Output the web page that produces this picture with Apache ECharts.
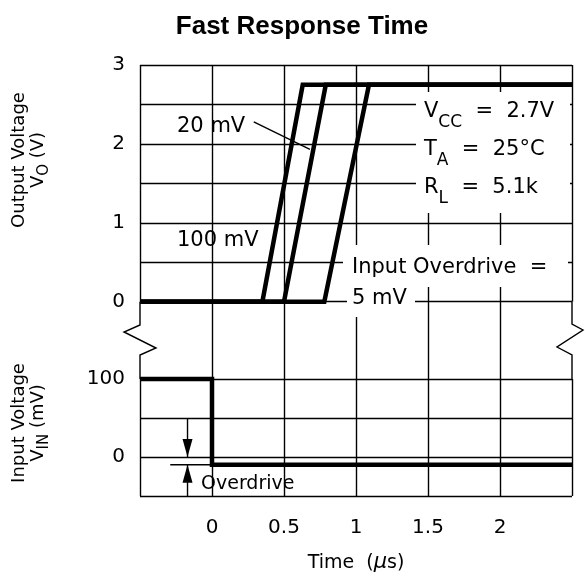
<!DOCTYPE html>
<html>
<head>
<meta charset="utf-8">
<script src="https://cdn.jsdelivr.net/npm/echarts/dist/echarts.min.js"></script>
<style>
html,body{margin:0;padding:0;background:#fff;}
#c{width:585px;height:584px;}
</style>
</head>
<body>
<div id="c"></div>
<script>
// ---- data ----
const timeTicks = [0, 0.5, 1, 1.5, 2];
const outTicks = [0, 1, 2, 3];
const inTicks = [0, 100];
const out100mV = [[-0.5, 0], [0.35, 0], [0.63, 2.75], [2.5, 2.75]];
const out20mV  = [[-0.5, 0], [0.50, 0], [0.79, 2.75], [2.5, 2.75]];
const out5mV   = [[-0.5, 0], [0.78, 0], [1.09, 2.75], [2.5, 2.75]];
const inputStep = [[-0.5, 100], [0, 100], [0, -10], [2.5, -10]];
const overdriveRef = [[-0.29, -10], [0, -10]];
const arrowDown = [[-0.17, 50], [-0.17, 0]];
const arrowUp = [[-0.17, -50], [-0.17, -10]];
const pointer20 = [[0.29, 2.28], [0.68, 1.93]];

// ---- layout ----
const L = 140, W = 432, R = L + W;
const T0 = 65, H0 = 236.7;      // output plot
const T1 = T0 + H0, H1 = 77.3;  // break band
const T2 = T1 + H1, H2 = 117;   // input plot
const FF = '"DejaVu Sans", sans-serif';
const thin = { color: '#000', width: 1.4 };
const thick = { color: '#000', width: 4.5, join: 'miter', cap: 'butt' };

const chart = echarts.init(document.getElementById('c'), null, { renderer: 'canvas' });

function xAx(gi) {
  return {
    gridIndex: gi, type: 'value', min: -0.5, max: 2.5, interval: 0.5,
    axisLine: { show: false }, axisTick: { show: false },
    splitLine: { show: true, lineStyle: thin, showMinLine: gi !== 1, showMaxLine: gi !== 1 },
    axisLabel: gi === 2 ? {
      show: true, color: '#000', fontFamily: FF, fontSize: 20, margin: 22,
      showMinLabel: true, showMaxLabel: true,
      formatter: v => timeTicks.some(t => Math.abs(t - v) < 1e-9) ? String(v) : ''
    } : { show: false }
  };
}

const lineSeries = (data, style, xi, extra) => Object.assign({
  type: 'line', xAxisIndex: xi, yAxisIndex: xi, data: data,
  symbol: 'none', lineStyle: style, clip: false, silent: true, animation: false
}, extra || {});

function arrowData(pts, down) {
  return [
    { value: pts[0], symbol: 'none' },
    { value: pts[1], symbol: 'triangle', symbolSize: [10, 18],
      symbolRotate: down ? 180 : 0, symbolOffset: [0, down ? -9 : 9],
      itemStyle: { color: '#000' } }
  ];
}

const subRich = {
  m: { fontFamily: FF, fontSize: 21, lineHeight: 30, color: '#000' },
  s: { fontFamily: FF, fontSize: 17, lineHeight: 30, color: '#000', padding: [22, 0, 0, 0] }
};

function txt(x, y, text, extra) {
  return Object.assign({
    type: 'text', x: x, y: y, z: 20,
    style: Object.assign({ text: text, fill: '#000', font: '21px ' + FF,
      textAlign: 'left', textVerticalAlign: 'middle' }, extra || {})
  });
}
function box(x1, y1, x2, y2) {
  return { type: 'rect', z: 10, shape: { x: x1, y: y1, width: x2 - x1, height: y2 - y1 },
    style: { fill: '#fff' } };
}
function poly(pts) {
  return { type: 'polyline', z: 10, shape: { points: pts },
    style: { stroke: '#000', lineWidth: 1.4, fill: null } };
}

const option = {
  backgroundColor: '#fff',
  animation: false,
  grid: [
    { left: L, width: W, top: T0, height: H0, show: false },
    { left: L, width: W, top: T1, height: H1, show: false },
    { left: L, width: W, top: T2, height: H2, show: false }
  ],
  xAxis: [xAx(0), xAx(1), xAx(2)],
  yAxis: [
    { gridIndex: 0, type: 'value', min: 0, max: 3, interval: 0.5,
      axisLine: { show: false }, axisTick: { show: false },
      splitLine: { show: true, lineStyle: thin },
      axisLabel: { color: '#000', fontFamily: FF, fontSize: 20, margin: 15,
        showMinLabel: true, showMaxLabel: true,
        formatter: v => outTicks.indexOf(v) >= 0 ? String(v) : '' } },
    { gridIndex: 1, type: 'value', min: 0, max: 1, show: false },
    { gridIndex: 2, type: 'value', min: -50, max: 100, interval: 50,
      axisLine: { show: false }, axisTick: { show: false },
      splitLine: { show: true, lineStyle: thin },
      axisLabel: { color: '#000', fontFamily: FF, fontSize: 20, margin: 15,
        showMinLabel: true, showMaxLabel: true,
        formatter: v => inTicks.indexOf(v) >= 0 ? String(v) : '' } }
  ],
  series: [
    lineSeries(out100mV, thick, 0),
    lineSeries(out20mV, thick, 0),
    lineSeries(out5mV, thick, 0),
    lineSeries(pointer20, thin, 0),
    lineSeries(inputStep, thick, 2),
    lineSeries(overdriveRef, thin, 2),
    lineSeries(arrowData(arrowDown, true), thin, 2, { showSymbol: true, showAllSymbol: true }),
    lineSeries(arrowData(arrowUp, false), thin, 2, { showSymbol: true, showAllSymbol: true })
  ],
  graphic: [
    // white label boxes
    box(416, 92, 570, 213),
    box(343, 245, 568, 287),
    box(347, 287, 415, 317),
    // broken axis borders
    poly([[L, T1], [L, 325], [124, 332], [156, 348], [L, 355], [L, T2]]),
    poly([[R, T1], [R, 324], [583, 330], [557, 347], [R, 355], [R, T2]]),
    // title
    txt(302, 27, 'Fast Response Time', { font: 'bold 26px "Liberation Sans", Arial, sans-serif', textAlign: 'center' }),
    // annotations
    txt(177, 127, '20 mV'),
    txt(177, 241, '100 mV'),
    txt(424, 112, '{m|V}{s|CC}{m|  =  2.7V}', { rich: subRich }),
    txt(424, 150, '{m|T}{s|A}{m|  =  25°C}', { rich: subRich }),
    txt(424, 188, '{m|R}{s|L}{m|  =  5.1k}', { rich: subRich }),
    txt(352, 268, 'Input Overdrive  ='),
    txt(352, 299, '5 mV'),
    txt(201, 484, 'Overdrive', { font: '19px ' + FF }),
    // axis names
    txt(356, 563, '{n|Time  (}{u|μ}{n|s)}', { textAlign: 'center',
      rich: { n: { fontFamily: FF, fontSize: 19, color: '#000' },
              u: { fontFamily: FF, fontSize: 21, fontStyle: 'italic', color: '#000' } } }),
    Object.assign(txt(29, 160, '{m|Output Voltage}\n{m|V}{s|O}{m| (V)}', { textAlign: 'center',
      rich: { m: { fontFamily: FF, fontSize: 18, lineHeight: 19, color: '#000' },
              s: { fontFamily: FF, fontSize: 15, lineHeight: 19, color: '#000', padding: [12, 0, 0, 0] } } }),
      { rotation: Math.PI / 2 }),
    Object.assign(txt(29, 423, '{m|Input Voltage}\n{m|V}{s|IN}{m| (mV)}', { textAlign: 'center',
      rich: { m: { fontFamily: FF, fontSize: 18, lineHeight: 19, color: '#000' },
              s: { fontFamily: FF, fontSize: 15, lineHeight: 19, color: '#000', padding: [12, 0, 0, 0] } } }),
      { rotation: Math.PI / 2 })
  ]
};
chart.setOption(option);
</script>
</body>
</html>
